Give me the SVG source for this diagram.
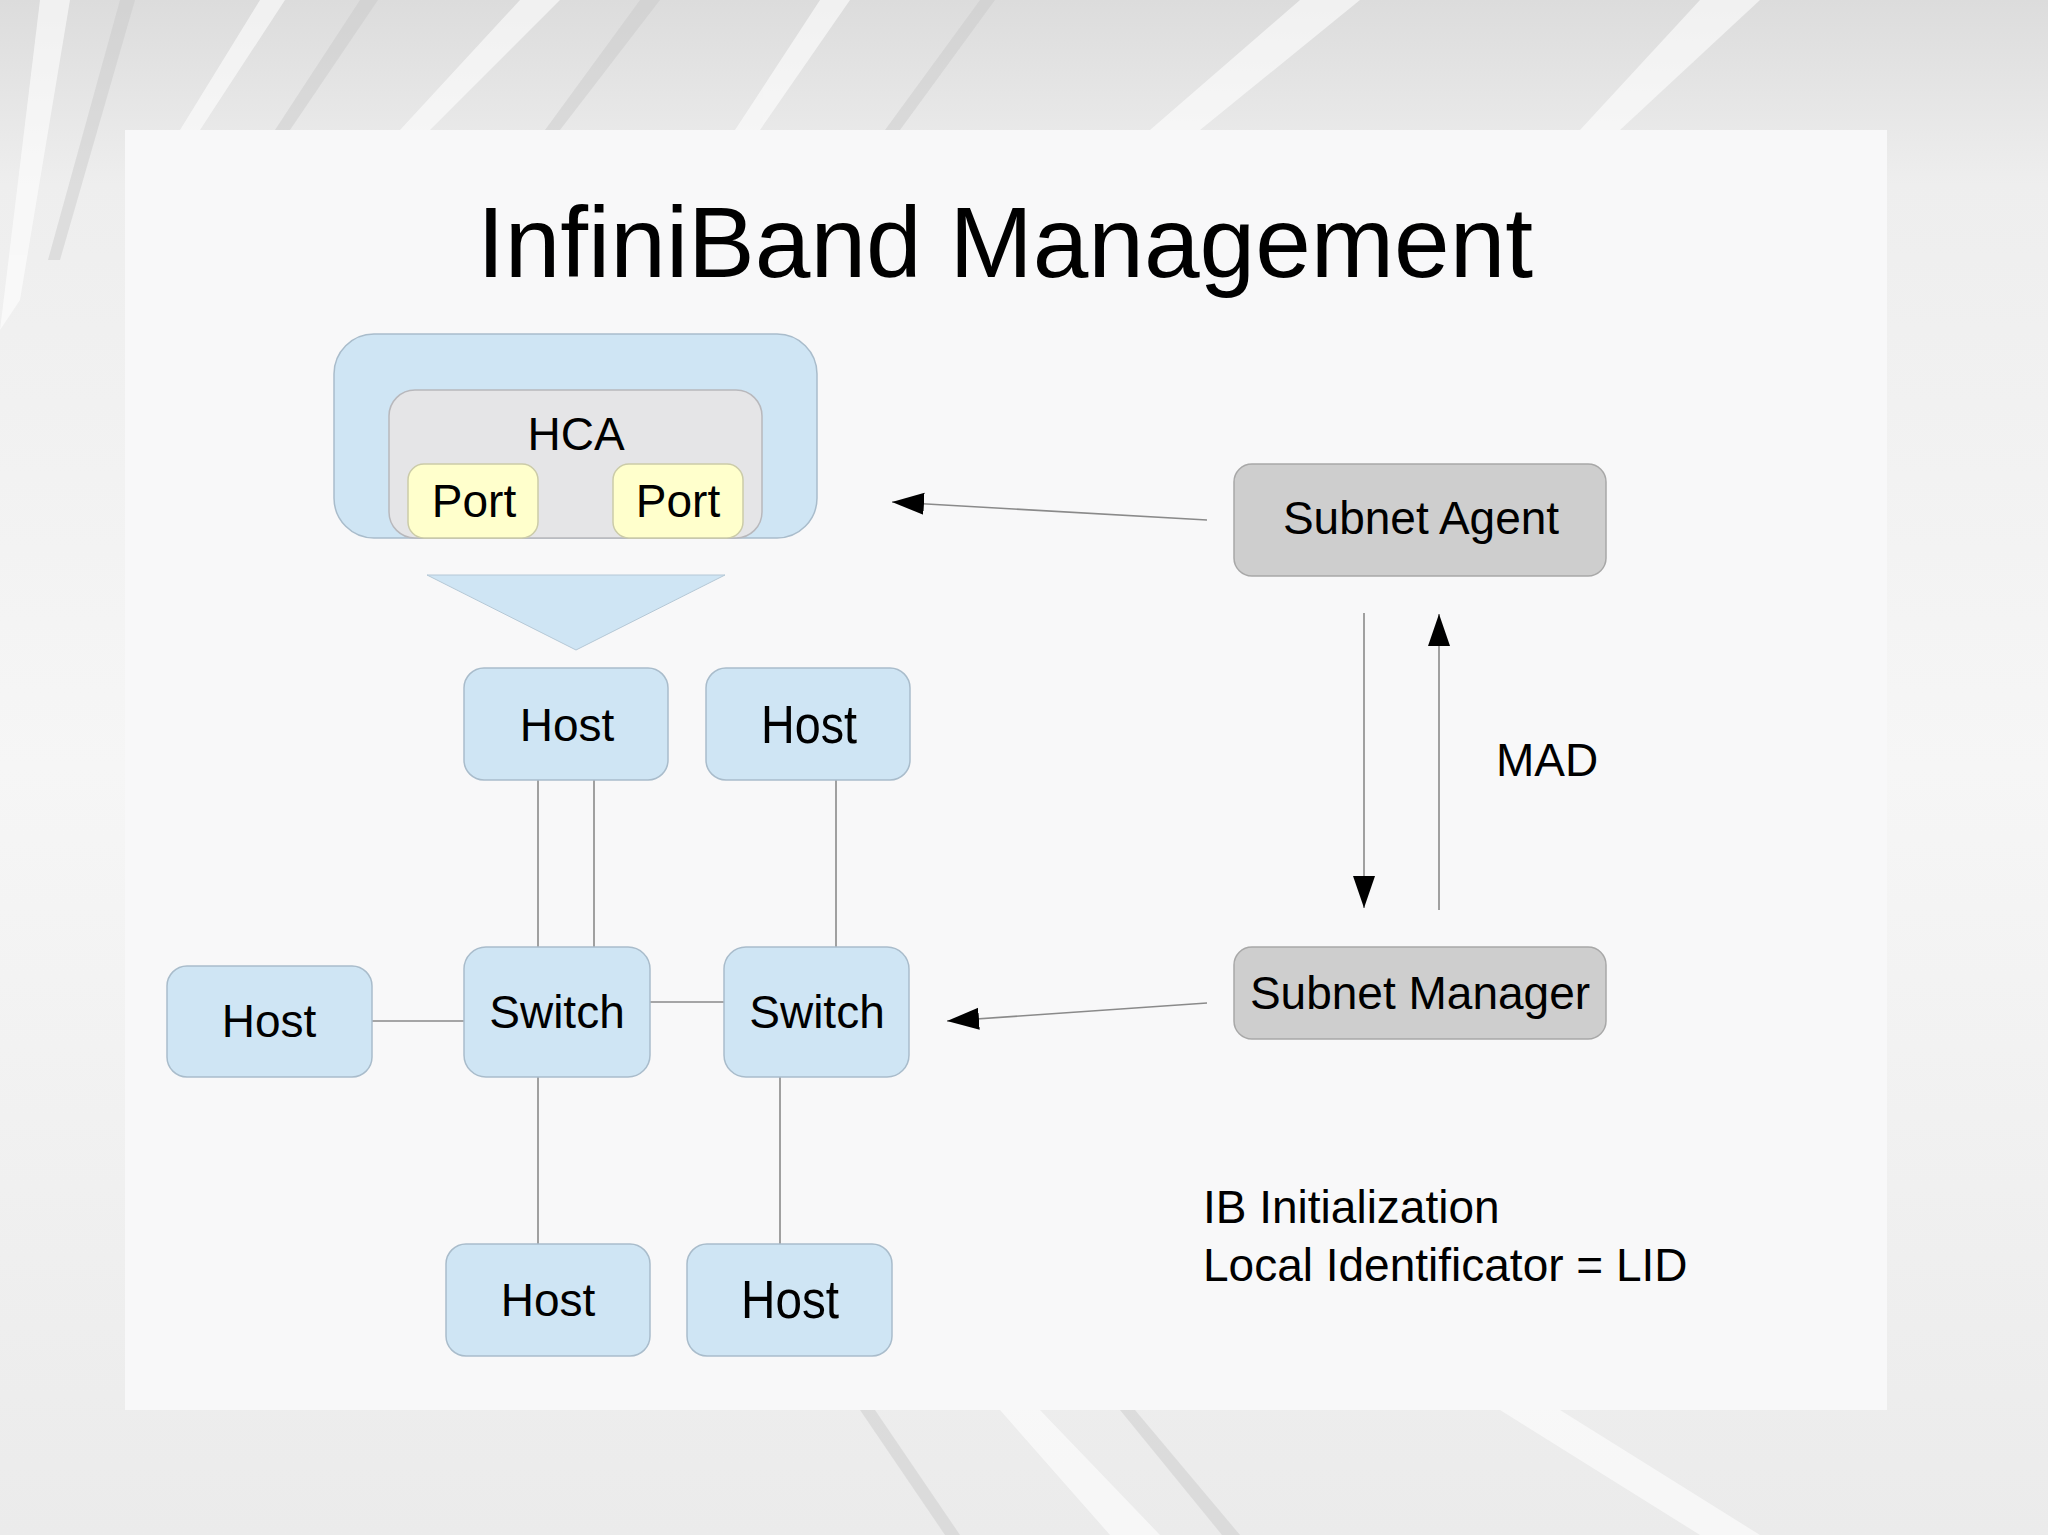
<svg xmlns="http://www.w3.org/2000/svg" width="2048" height="1535" viewBox="0 0 2048 1535">
  <defs>
    <style>
      .t { font-family: "Liberation Sans", Arial, sans-serif; fill: #000; }
      .blue { fill: #cfe5f4; stroke: #a9bccb; stroke-width: 1.5; }
      .gray { fill: #cecece; stroke: #a8a8a8; stroke-width: 1.5; }
      .hca { fill: #e5e5e7; stroke: #b8b8bc; stroke-width: 1.5; }
      .port { fill: #ffffcc; stroke: #cbcba8; stroke-width: 1.5; }
      .link { stroke: #8a8a8a; stroke-width: 1.6; fill: none; }
    </style>
    <marker id="ah" markerUnits="userSpaceOnUse" markerWidth="34" markerHeight="24" refX="32" refY="11" orient="auto">
      <path d="M0,0 L32,11 L0,22 Z" fill="#000"/>
    </marker>
    <linearGradient id="bg" x1="0" y1="0" x2="0" y2="1">
      <stop offset="0" stop-color="#dcdcdc"/>
      <stop offset="0.12" stop-color="#eeeeee"/>
      <stop offset="0.5" stop-color="#f6f6f6"/>
      <stop offset="1" stop-color="#ebebeb"/>
    </linearGradient>
  </defs>

  <!-- background -->
  <rect x="0" y="0" width="2048" height="1535" fill="url(#bg)"/>
  <g fill="#ffffff" opacity="0.6">
    <path d="M40,0 L70,0 L20,300 L0,330 Z"/>
    <path d="M260,0 L285,0 L200,130 L180,130 Z"/>
    <path d="M520,0 L560,0 L430,130 L400,130 Z"/>
    <path d="M820,0 L850,0 L760,130 L735,130 Z"/>
    <path d="M1300,0 L1360,0 L1200,130 L1150,130 Z"/>
    <path d="M1700,0 L1760,0 L1620,130 L1580,130 Z"/>
    <path d="M1000,1410 L1040,1410 L1160,1535 L1110,1535 Z"/>
    <path d="M1500,1410 L1560,1410 L1760,1535 L1700,1535 Z"/>
  </g>
  <g fill="#c8c8c8" opacity="0.45">
    <path d="M120,0 L135,0 L60,260 L48,260 Z"/>
    <path d="M360,0 L378,0 L290,130 L275,130 Z"/>
    <path d="M640,0 L660,0 L560,130 L545,130 Z"/>
    <path d="M980,0 L995,0 L900,130 L885,130 Z"/>
    <path d="M1120,1410 L1135,1410 L1240,1535 L1222,1535 Z"/>
    <path d="M860,1410 L875,1410 L960,1535 L945,1535 Z"/>
  </g>
  <rect x="125" y="130" width="1762" height="1280" fill="#f8f8f9"/>

  <!-- title -->
  <text class="t" x="1005" y="277" font-size="100" text-anchor="middle">InfiniBand Management</text>

  <!-- connectors -->
  <g id="connectors">
    <line class="link" x1="538" y1="780" x2="538" y2="947"/>
    <line class="link" x1="594" y1="780" x2="594" y2="947"/>
    <line class="link" x1="836" y1="780" x2="836" y2="947"/>
    <line class="link" x1="372" y1="1021" x2="464" y2="1021"/>
    <line class="link" x1="650" y1="1002" x2="724" y2="1002"/>
    <line class="link" x1="538" y1="1077" x2="538" y2="1244"/>
    <line class="link" x1="780" y1="1077" x2="780" y2="1244"/>
    <line class="link" x1="1207" y1="520" x2="892" y2="502" marker-end="url(#ah)"/>
    <line class="link" x1="1207" y1="1003" x2="947" y2="1021" marker-end="url(#ah)"/>
    <line class="link" x1="1364" y1="613" x2="1364" y2="908" marker-end="url(#ah)"/>
    <line class="link" x1="1439" y1="910" x2="1439" y2="614" marker-end="url(#ah)"/>
  </g>

  <!-- HCA host -->
  <g id="hca-host">
    <rect class="blue" x="334" y="334" width="483" height="204" rx="40"/>
    <polygon fill="#cfe5f4" stroke="#b5c8d6" stroke-width="1" points="427,575 725,575 576,650"/>
  </g>
  <g id="hca">
    <rect class="hca" x="389" y="390" width="373" height="148" rx="26"/>
    <text class="t" x="576" y="450" font-size="46" text-anchor="middle">HCA</text>
  </g>
  <g id="port1">
    <rect class="port" x="408" y="464" width="130" height="74" rx="16"/>
    <text class="t" x="474" y="517" font-size="46" text-anchor="middle">Port</text>
  </g>
  <g id="port2">
    <rect class="port" x="613" y="464" width="130" height="74" rx="16"/>
    <text class="t" x="678" y="517" font-size="46" text-anchor="middle">Port</text>
  </g>

  <!-- hosts and switches -->
  <g id="host1">
    <rect class="blue" x="464" y="668" width="204" height="112" rx="20"/>
    <text class="t" x="567" y="741" font-size="46" text-anchor="middle">Host</text>
  </g>
  <g id="host2">
    <rect class="blue" x="706" y="668" width="204" height="112" rx="20"/>
    <text class="t" x="809" y="743" font-size="53" text-anchor="middle" textLength="96" lengthAdjust="spacingAndGlyphs">Host</text>
  </g>
  <g id="host3">
    <rect class="blue" x="167" y="966" width="205" height="111" rx="20"/>
    <text class="t" x="269" y="1037" font-size="46" text-anchor="middle">Host</text>
  </g>
  <g id="switch1">
    <rect class="blue" x="464" y="947" width="186" height="130" rx="22"/>
    <text class="t" x="557" y="1028" font-size="46" text-anchor="middle">Switch</text>
  </g>
  <g id="switch2">
    <rect class="blue" x="724" y="947" width="185" height="130" rx="22"/>
    <text class="t" x="817" y="1028" font-size="46" text-anchor="middle">Switch</text>
  </g>
  <g id="host4">
    <rect class="blue" x="446" y="1244" width="204" height="112" rx="20"/>
    <text class="t" x="548" y="1316" font-size="46" text-anchor="middle">Host</text>
  </g>
  <g id="host5">
    <rect class="blue" x="687" y="1244" width="205" height="112" rx="20"/>
    <text class="t" x="790" y="1318" font-size="53" text-anchor="middle" textLength="98" lengthAdjust="spacingAndGlyphs">Host</text>
  </g>

  <!-- subnet agent / manager -->
  <g id="subnet-agent">
    <rect class="gray" x="1234" y="464" width="372" height="112" rx="18"/>
    <text class="t" x="1421" y="534" font-size="46" text-anchor="middle">Subnet Agent</text>
  </g>
  <g id="subnet-manager">
    <rect class="gray" x="1234" y="947" width="372" height="92" rx="18"/>
    <text class="t" x="1420" y="1009" font-size="46" text-anchor="middle">Subnet Manager</text>
  </g>

  <text class="t" x="1496" y="776" font-size="46">MAD</text>

  <g id="notes">
    <text class="t" x="1203" y="1223" font-size="46">IB Initialization</text>
    <text class="t" x="1203" y="1281" font-size="46">Local Identificator = LID</text>
  </g>
</svg>
